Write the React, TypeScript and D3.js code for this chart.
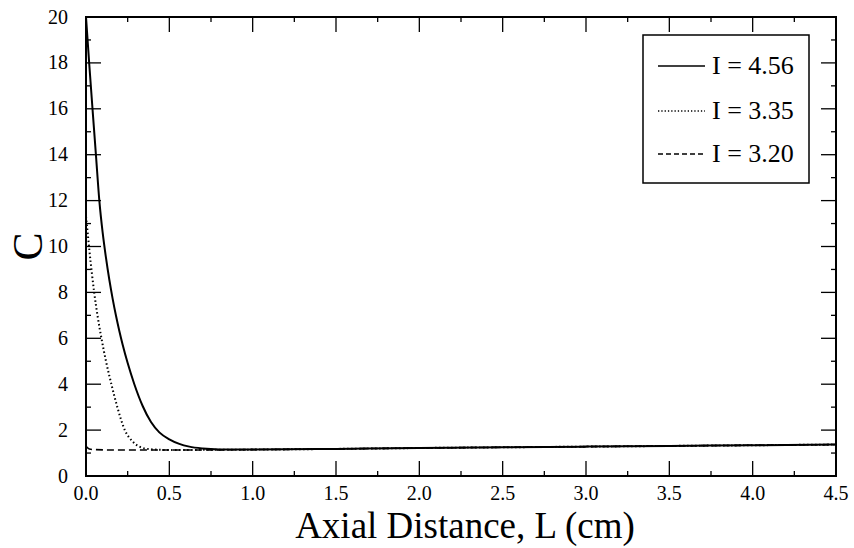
import React from "react";
import * as d3 from "d3";

const W = 854;
const H = 548;

// Series: I = 4.56 (solid)
const xSolid = [0, 0.02, 0.04, 0.06, 0.08, 0.1, 0.12, 0.14, 0.16, 0.18, 0.2, 0.22, 0.25, 0.29, 0.34, 0.39, 0.44, 0.5, 0.56, 0.62, 0.7, 0.8, 1.0, 1.5, 2.0, 2.5, 3.0, 3.5, 4.0, 4.5];
const ySolid = [20, 17.9, 15.9, 13.95, 12, 10.6, 9.5, 8.55, 7.72, 6.98, 6.32, 5.72, 4.92, 4.0, 3.05, 2.35, 1.9, 1.6, 1.4, 1.28, 1.2, 1.16, 1.15, 1.18, 1.22, 1.25, 1.28, 1.31, 1.34, 1.37];
// Series: I = 3.35 (dotted)
const xDot = [0, 0.01, 0.02, 0.035, 0.05, 0.07, 0.094, 0.12, 0.154, 0.19, 0.233, 0.28, 0.32, 0.36, 0.42, 0.5, 0.7, 1.0, 1.5, 2.0, 2.5, 3.0, 3.5, 4.0, 4.5];
const yDot = [11.3, 10.6, 9.85, 8.85, 7.95, 6.95, 5.95, 5.0, 3.95, 2.95, 2.0, 1.5, 1.28, 1.19, 1.15, 1.13, 1.14, 1.15, 1.18, 1.22, 1.25, 1.28, 1.31, 1.34, 1.37];
// Series: I = 3.20 (dashed)
const xDash = [0, 0.02, 0.05, 0.2, 0.5, 1.0, 1.5, 2.0, 2.5, 3.0, 3.5, 4.0, 4.5];
const yDash = [1.3, 1.18, 1.15, 1.13, 1.13, 1.15, 1.18, 1.22, 1.25, 1.28, 1.31, 1.34, 1.37];

const seriesLabels = ["I = 4.56", "I = 3.35", "I = 3.20"];
const xTickLabels = ["0.0", "0.5", "1.0", "1.5", "2.0", "2.5", "3.0", "3.5", "4.0", "4.5"];
const yTickLabels = ["0", "2", "4", "6", "8", "10", "12", "14", "16", "18", "20"];
const xTitle = "Axial Distance, L (cm)";
const yTitle = "C";

const FONT = "'Liberation Serif', 'Times New Roman', Times, serif";

export default function App() {
  const left = 86, right = 836, top = 17, bottom = 476;
  const x = d3.scaleLinear().domain([0, 4.5]).range([left, right]);
  const y = d3.scaleLinear().domain([0, 20]).range([bottom, top]);

  const mk = (xs: number[], ys: number[]) =>
    d3.line<number>()
      .x((_, i) => x(xs[i]))
      .y((_, i) => y(ys[i]))
      .curve(d3.curveMonotoneX)(ys) || "";

  const series = [
    { d: mk(xSolid, ySolid), dash: undefined as string | undefined, w: 2 },
    { d: mk(xDot, yDot), dash: "1.5,2.5", w: 2 },
    { d: mk(xDash, yDash), dash: "7,4", w: 1.6 },
  ];
  const legendDash = [undefined, "1.3,2", "5,3"];

  const xMajor = xTickLabels.map((t) => +t);
  const xMinor = d3.range(0.25, 4.5, 0.5);
  const yMajor = yTickLabels.map((t) => +t);
  const yMinor = d3.range(1, 20, 2);
  const LM = 15, Lm = 5;

  // legend
  const lgLeft = 643, lgRight = 809, lgTop = 35, lgBottom = 183;
  const rowY = [74, 119, 162];

  return (
    <svg width={W} height={H} style={{ position: "absolute", left: 0, top: 0, background: "#fff" }}>
      <rect x={0} y={0} width={W} height={H} fill="#fff" />
      {series.map((s, i) => (
        <path key={i} d={s.d} fill="none" stroke="#000" strokeWidth={s.w} strokeDasharray={s.dash} />
      ))}
      <g stroke="#000" strokeWidth={1.3}>
        {xMajor.map((v, i) => (
          <g key={"xm" + i}>
            <line x1={x(v)} x2={x(v)} y1={bottom} y2={bottom - LM} />
            <line x1={x(v)} x2={x(v)} y1={top} y2={top + LM} />
          </g>
        ))}
        {xMinor.map((v, i) => (
          <g key={"xn" + i}>
            <line x1={x(v)} x2={x(v)} y1={bottom} y2={bottom - Lm} />
            <line x1={x(v)} x2={x(v)} y1={top} y2={top + Lm} />
          </g>
        ))}
        {yMajor.map((v, i) => (
          <g key={"ym" + i}>
            <line x1={left} x2={left + LM} y1={y(v)} y2={y(v)} />
            <line x1={right} x2={right - LM} y1={y(v)} y2={y(v)} />
          </g>
        ))}
        {yMinor.map((v, i) => (
          <g key={"yn" + i}>
            <line x1={left} x2={left + Lm} y1={y(v)} y2={y(v)} />
            <line x1={right} x2={right - Lm} y1={y(v)} y2={y(v)} />
          </g>
        ))}
      </g>
      <rect x={left} y={top} width={right - left} height={bottom - top} fill="none" stroke="#000" strokeWidth={2} />
      {xTickLabels.map((t, i) => (
        <text key={"xl" + i} x={x(xMajor[i])} y={500} textAnchor="middle" fontFamily={FONT} fontSize={20} fill="#000">{t}</text>
      ))}
      {yTickLabels.map((t, i) => (
        <text key={"yl" + i} x={68} y={y(yMajor[i]) + 6.5} textAnchor="end" fontFamily={FONT} fontSize={20} fill="#000">{t}</text>
      ))}
      <text x={465} y={538} textAnchor="middle" fontFamily={FONT} fontSize={37} fill="#000">{xTitle}</text>
      <text transform={`translate(42, ${(top + bottom) / 2}) rotate(-90)`} textAnchor="middle" fontFamily={FONT} fontSize={42} fill="#000">{yTitle}</text>
      <rect x={lgLeft} y={lgTop} width={lgRight - lgLeft} height={lgBottom - lgTop} fill="#fff" stroke="#000" strokeWidth={1.5} />
      {seriesLabels.map((lab, i) => (
        <g key={"lg" + i}>
          <line x1={lgLeft + 15} x2={lgLeft + 62} y1={rowY[i] - 8} y2={rowY[i] - 8} stroke="#000" strokeWidth={1.6} strokeDasharray={legendDash[i]} />
          <text x={lgLeft + 69} y={rowY[i]} textAnchor="start" fontFamily={FONT} fontSize={26} fill="#000">{lab}</text>
        </g>
      ))}
    </svg>
  );
}
